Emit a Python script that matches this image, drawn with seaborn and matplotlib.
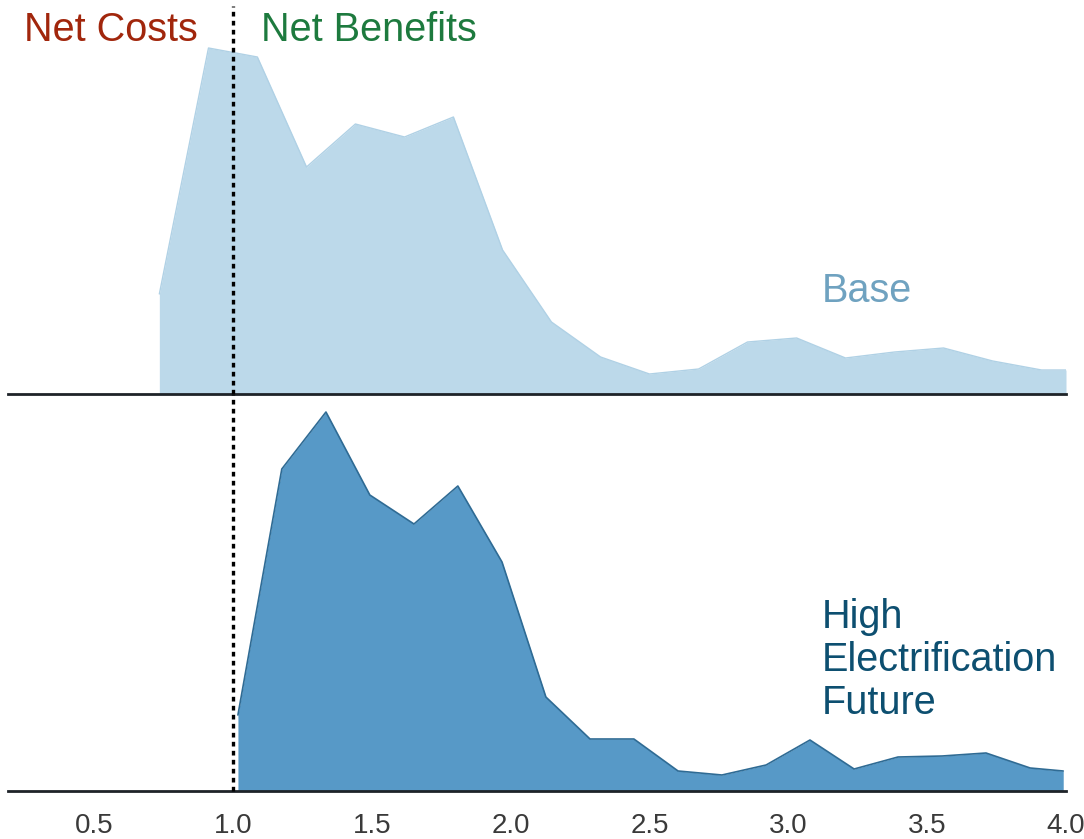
import matplotlib
matplotlib.use("Agg")
import matplotlib.pyplot as plt
import seaborn as sns
import pandas as pd

# ---- data ----
base_x = [0.735, 0.912, 1.088, 1.265, 1.441, 1.618, 1.794, 1.971, 2.147, 2.324,
          2.500, 2.677, 2.853, 3.030, 3.206, 3.383, 3.559, 3.736, 3.912, 4.000]
base_y = [0.50, 1.73, 1.685, 1.135, 1.35, 1.285, 1.385, 0.72, 0.36, 0.185,
          0.10, 0.125, 0.26, 0.28, 0.18, 0.21, 0.23, 0.165, 0.12, 0.12]

hef_x = [1.018, 1.176, 1.335, 1.493, 1.652, 1.810, 1.969, 2.127, 2.286, 2.444,
         2.603, 2.761, 2.920, 3.078, 3.237, 3.395, 3.554, 3.712, 3.871, 3.990]
hef_y = [0.38, 1.61, 1.895, 1.48, 1.335, 1.525, 1.145, 0.47, 0.26, 0.26,
         0.10, 0.08, 0.13, 0.255, 0.11, 0.17, 0.175, 0.19, 0.115, 0.10]

xticks = [0.5, 1.0, 1.5, 2.0, 2.5, 3.0, 3.5, 4.0]
xtick_labels = ["0.5", "1.0", "1.5", "2.0", "2.5", "3.0", "3.5", "4.0"]
breakeven = 1.0

sns.set_theme(style="white")
plt.rcParams["font.family"] = ["Liberation Sans", "DejaVu Sans"]

fig = plt.figure(figsize=(10.84, 8.39), dpi=100)
W, H = 1084, 839
left = 8 / W
width = 1058 / W
ax_top = fig.add_axes([left, 1 - 394 / H, width, 394 / H])
ax_bot = fig.add_axes([left, 1 - 791 / H, width, 397 / H])

df_base = pd.DataFrame({"x": base_x, "y": base_y})
df_hef = pd.DataFrame({"x": hef_x, "y": hef_y})

top_fill = "#bcd9ea"
top_edge = "#b0d1e5"
bot_fill = "#5799c7"
bot_edge = "#2f6b94"

ax_top.fill_between(df_base["x"], 0, df_base["y"], color=top_fill, linewidth=0, zorder=1)
sns.lineplot(data=df_base, x="x", y="y", ax=ax_top, color=top_edge, linewidth=1.0,
             sort=False, zorder=2)
ax_bot.fill_between(df_hef["x"], 0, df_hef["y"], color=bot_fill, linewidth=0, zorder=1)
sns.lineplot(data=df_hef, x="x", y="y", ax=ax_bot, color=bot_edge, linewidth=1.2,
             sort=False, zorder=2)

for ax, ytop in ((ax_top, 1.97), (ax_bot, 1.985)):
    ax.set_xlim(0.19, 4.0)
    ax.set_ylim(0, ytop)
    ax.set_xlabel("")
    ax.set_ylabel("")
    ax.set_yticks([])
    for s in ("top", "right", "left"):
        ax.spines[s].set_visible(False)
    ax.spines["bottom"].set_visible(True)
    ax.spines["bottom"].set_color("#1e2328")
    ax.spines["bottom"].set_linewidth(2.0)
    ax.spines["bottom"].set_zorder(5)
    ax.patch.set_alpha(0)

ax_top.set_xticks([])
ax_bot.set_xticks(xticks)
ax_bot.set_xticklabels(xtick_labels, fontsize=20, color="#3a3a3a")
ax_bot.tick_params(axis="x", length=0, pad=16)

dot_style = (0, (1.4, 1.3))
ax_top.axvline(breakeven, ymin=0, ymax=0.985, color="black", linestyle=dot_style,
               linewidth=2.4, zorder=6, dash_capstyle="butt")
ax_bot.axvline(breakeven, ymin=0, ymax=1, color="black", linestyle=dot_style,
               linewidth=2.4, zorder=6, dash_capstyle="butt", clip_on=False)

fs = 28.5
fig.text(24 / W, 1 - 30 / H, "Net Costs", color="#a1260c", fontsize=fs, va="center", ha="left")
fig.text(261 / W, 1 - 30 / H, "Net Benefits", color="#1d7a3e", fontsize=fs, va="center", ha="left")
fig.text(822 / W, 1 - 291 / H, "Base", color="#6fa2c0", fontsize=fs, va="center", ha="left")
fig.text(822 / W, 1 - 660 / H, "High\nElectrification\nFuture", color="#0d4f70",
         fontsize=fs, va="center", ha="left", linespacing=1.17)

fig.savefig("out.png", dpi=100)
